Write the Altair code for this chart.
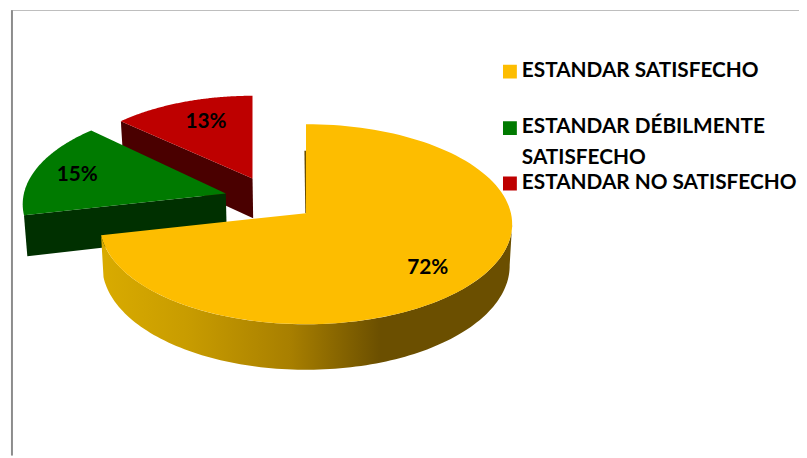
import math
import altair as alt

# --- chart values ---
categories = ["ESTANDAR SATISFECHO", "ESTANDAR DÉBILMENTE SATISFECHO", "ESTANDAR NO SATISFECHO"]
shares = [71.5, 15.2, 13.3]
share_labels = ["72%", "15%", "13%"]
top_colors = ["#FDBD00", "#007A00", "#BE0000"]
wall_colors = ["#6B4F00", "#003000", "#4A0000"]
legend_lines = ["ESTANDAR SATISFECHO", "ESTANDAR DÉBILMENTE", "SATISFECHO", "ESTANDAR NO SATISFECHO"]

# --- layout of the drawing (window pixels) ---
apexes = [(305, 213), (224, 193), (251, 178)]
slice_scale = [1.0, 0.985, 0.93]
end_nudge = [0, 2.0, 0]
AX, BY, K = 207, 99.8, 0.11
VX = 304
label_pos = [(428, 268), (74, 174), (204, 121)]
legend_y = [69, 126, 157, 183]
swatch_y = [70, 127, 183]
FONT = "Lato"


def pt(theta, apex, s):
    u, v = math.sin(math.radians(theta)), -math.cos(math.radians(theta))
    d = 1 - K * v
    return (apex[0] + s * AX * u / d, apex[1] + s * BY * v / d)


def low(p):
    depth = 40 + 0.041 * (p[1] - 178)
    return (p[0] + (VX - p[0]) * 0.012, p[1] + depth)


def arc(a0, a1, apex, s, n=120):
    return [pt(a0 + (a1 - a0) * i / n, apex, s) for i in range(n + 1)]


def feature(ring):
    r = [list(p) for p in ring]
    r.append(r[0])
    return {"type": "Feature", "geometry": {"type": "Polygon", "coordinates": [r]}, "properties": {}}


projection = alt.Projection(type="identity", scale=1, translate=[-4, -8])


def shape(ring, fill):
    return alt.Chart(alt.Data(values=[feature(ring)])).mark_geoshape(
        fill=fill, stroke=None, strokeWidth=0
    ).project(**projection.to_dict())


edges = []
a = 0.0
for v, n in zip(shares, end_nudge):
    edges.append((a, a + v * 3.6 + n))
    a += v * 3.6

layers = []
# frame
for ring in ([(7, 7), (807, 7), (807, 8.5), (7, 8.5)], [(7, 7), (9, 7), (9, 458), (7, 458)]):
    layers.append(shape(ring, "#8C8C8C"))

# red slice
(a0, a1), ap, s = edges[2], apexes[2], slice_scale[2]
c = pt(a0, ap, s)
layers.append(shape([ap, c, low(c), low(ap)], wall_colors[2]))
layers.append(shape([ap] + arc(a0, a1, ap, s), top_colors[2]))
# green slice
(a0, a1), ap, s = edges[1], apexes[1], slice_scale[1]
c = pt(a0, ap, s)
layers.append(shape([ap, c, low(c), low(ap)], wall_colors[1]))
layers.append(shape([ap] + arc(a0, a1, ap, s), top_colors[1]))
# yellow slice: outer wall with shading, then the top face
(a0, a1), ap, s = edges[0], apexes[0], slice_scale[0]
top = arc(96, a1, ap, s)
side = top + [low(p) for p in reversed(top)]
grad = alt.LinearGradient(
    gradient="linear", x1=0, x2=1, y1=0, y2=0,
    stops=[
        alt.GradientStop(offset=0, color="#D9AB00"),
        alt.GradientStop(offset=0.21, color="#C89C00"),
        alt.GradientStop(offset=0.46, color="#A87F00"),
        alt.GradientStop(offset=0.68, color="#6B4F00"),
        alt.GradientStop(offset=1, color="#6B4F00"),
    ],
)
layers.append(shape(side, grad))
layers.append(shape([(ap[0] - 1.6, 150), (ap[0] + 1, 150), (ap[0] + 1, ap[1]), (ap[0] - 0.7, ap[1])], wall_colors[0]))
layers.append(shape([ap] + arc(a0, a1, ap, s), top_colors[0]))

# percentage labels
labels = alt.Chart(alt.Data(values=[
    {"t": t, "lon": p[0], "lat": p[1]} for t, p in zip(share_labels, label_pos)
])).mark_text(font=FONT, fontWeight="bold", fontSize=21, color="black", align="center", baseline="middle").encode(
    longitude="lon:Q", latitude="lat:Q", text="t:N"
).project(**projection.to_dict())
layers.append(labels)

# legend
swatches = alt.Chart(alt.Data(values=[
    {"lon": 511, "lat": y, "c": col} for y, col in zip(swatch_y, top_colors)
])).mark_square(size=196, opacity=1, filled=True).encode(
    longitude="lon:Q", latitude="lat:Q", color=alt.Color("c:N", scale=None)
).project(**projection.to_dict())
layers.append(swatches)

legend = alt.Chart(alt.Data(values=[
    {"t": t, "lon": 523, "lat": y} for t, y in zip(legend_lines, legend_y)
])).mark_text(font=FONT, fontWeight="bold", fontSize=21, color="black", align="left", baseline="middle").encode(
    longitude="lon:Q", latitude="lat:Q", text="t:N"
).project(**projection.to_dict())
layers.append(legend)

chart = alt.layer(*layers).properties(width=799, height=450, padding=0).configure_view(stroke=None).configure(background="white")
chart.save("out.html", embed_options={"renderer": "svg", "actions": False})
